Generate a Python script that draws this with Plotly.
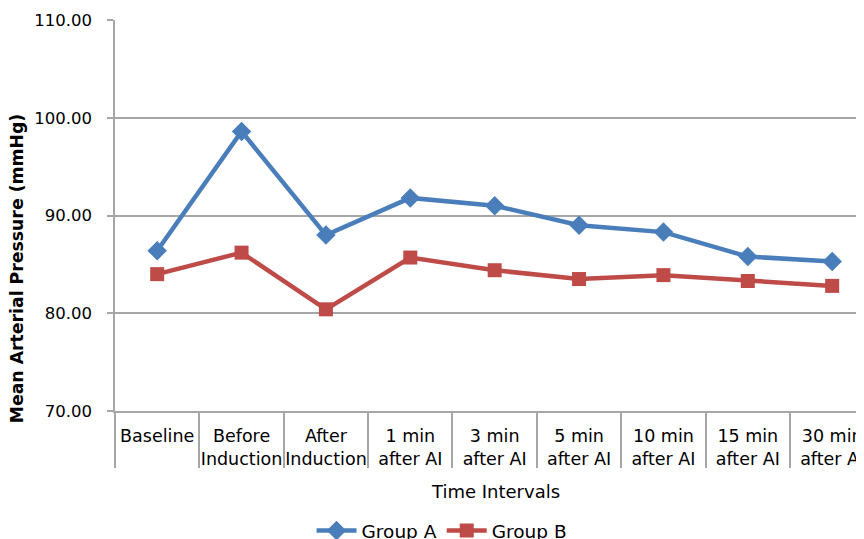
import plotly.graph_objects as go

categories = ["Baseline", "Before<br>Induction", "After<br>Induction", "1 min<br>after AI",
              "3 min<br>after AI", "5 min<br>after AI", "10 min<br>after AI",
              "15 min<br>after AI", "30 min<br>after AI"]
group_a = [86.4, 98.6, 88.0, 91.8, 91.0, 89.0, 88.3, 85.8, 85.3]
group_b = [84.0, 86.2, 80.4, 85.7, 84.4, 83.5, 83.9, 83.3, 82.8]
y_ticks = [70, 80, 90, 100, 110]

FONT = "DejaVu Sans"
GRID = "#a6a6a6"
BLUE = "#4a7ebb"
RED = "#be4b48"

fig = go.Figure()
fig.add_trace(go.Scatter(x=categories, y=group_a, name="Group A", mode="lines+markers",
                         line=dict(color=BLUE, width=4.5),
                         marker=dict(symbol="diamond", size=15, color=BLUE)))
fig.add_trace(go.Scatter(x=categories, y=group_b, name="Group B", mode="lines+markers",
                         line=dict(color=RED, width=4.5),
                         marker=dict(symbol="square", size=14, color=RED)))

n = len(categories)
xr = [-0.5, n - 0.528]
boundaries = [i - 0.5 for i in range(n + 1)]

# the page adds an 8px body margin, so the figure is sized/offset to compensate
fig.update_layout(
    width=864, height=531,
    margin=dict(l=107, r=0, t=12, b=128, autoexpand=False),
    paper_bgcolor="white", plot_bgcolor="white",
    font=dict(family=FONT, size=17.5, color="#000000"),
    showlegend=True,
    legend=dict(orientation="h", x=0.432, xanchor="center", y=-0.307, yanchor="middle",
                font=dict(size=18.5), itemwidth=40, tracegroupgap=0),
    xaxis=dict(type="category", categoryorder="array", categoryarray=categories,
               range=xr, showgrid=False, showline=True, linecolor=GRID, linewidth=1.5,
               ticks="outside", ticklen=8, tickcolor="rgba(0,0,0,0)",
               tickfont=dict(size=17.5), zeroline=False, automargin=False),
    xaxis2=dict(overlaying="x", side="bottom", type="linear", range=xr,
                tickmode="array", tickvals=boundaries, showticklabels=False,
                ticks="outside", ticklen=56, tickwidth=1.5, tickcolor=GRID,
                showgrid=False, showline=False, zeroline=False, automargin=False),
    yaxis=dict(range=[70, 110], tickvals=y_ticks, tickformat=".2f",
               showgrid=True, gridcolor=GRID, gridwidth=1.5,
               showline=True, linecolor=GRID, linewidth=1.5,
               ticks="outside", ticklen=6, tickwidth=1.5, tickcolor=GRID,
               ticklabelstandoff=12, tickfont=dict(size=16.5), zeroline=False,
               automargin=False),
    annotations=[
        dict(text="Time Intervals", xref="paper", yref="paper", x=0.502, y=-0.207,
             xanchor="center", yanchor="middle", showarrow=False, font=dict(size=18)),
        dict(text="<b>Mean Arterial Pressure (mmHg)</b>", xref="paper", yref="paper",
             x=-0.129, y=0.366, xanchor="center", yanchor="middle", textangle=-90,
             showarrow=False, font=dict(size=17.3)),
    ],
)
# invisible helper trace so the boundary-tick axis is drawn
fig.add_trace(go.Scatter(x=[boundaries[0]], y=[None], xaxis="x2", showlegend=False,
                         hoverinfo="skip", mode="markers"))

fig.write_html("out.html")
